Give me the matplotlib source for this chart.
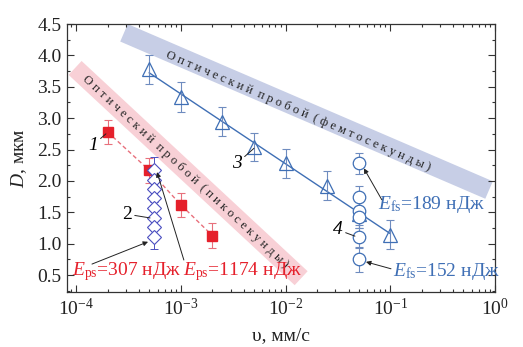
import numpy as np
import matplotlib
matplotlib.use("Agg")
import matplotlib.pyplot as plt
from matplotlib.ticker import FixedLocator, NullFormatter, LogLocator

plt.rcParams['font.family'] = ['Liberation Serif', 'DejaVu Serif']
plt.rcParams['mathtext.fontset'] = 'custom'
plt.rcParams['mathtext.rm'] = 'Liberation Serif'
plt.rcParams['mathtext.it'] = 'Liberation Serif:italic'

# --- data -------------------------------------------------------------
# 1: picosecond pulses, squares
v_ps = [2e-4, 5e-4, 1e-3, 2e-3]
d_ps = [2.78, 2.17, 1.62, 1.13]
e_ps = [0.19, 0.2, 0.19, 0.2]

# 2: picosecond pulses, diamonds at a fixed speed
v_dia = [5.5e-4] * 8
d_dia = [2.18, 2.02, 1.87, 1.72, 1.57, 1.41, 1.26, 1.11]
e_dia = [0.2] * 8

# 3: femtosecond pulses, triangles
v_fs = [5e-4, 1e-3, 2.5e-3, 5e-3, 1e-2, 2.5e-2, 5e-2, 1e-1]
d_fs = [3.78, 3.34, 2.94, 2.54, 2.28, 1.92, 1.48, 1.14]
e_fs = [0.23, 0.24, 0.23, 0.23, 0.23, 0.23, 0.23, 0.23]

# 4: femtosecond pulses, circles at a fixed speed
v_circ = [5e-2] * 6
d_circ = [2.28, 1.75, 1.52, 1.42, 1.11, 0.75]
e_circ = [0.17, 0.17, 0.17, 0.17, 0.18, 0.2]

# breakdown zones (start, end) in (speed, D)
band_pico = ([9.8e-5, 1.41e-2], [3.80, 0.45])
band_femto = ([2.87e-4, 0.877], [4.36, 1.855])

xticks = [1e-4, 1e-3, 1e-2, 1e-1, 1e0]
xticklabels = [r'$10^{-4}$', r'$10^{-3}$', r'$10^{-2}$', r'$10^{-1}$', r'$10^{0}$']
yticks = [0.5, 1.0, 1.5, 2.0, 2.5, 3.0, 3.5, 4.0, 4.5]
yticklabels = ['0.5', '1.0', '1.5', '2.0', '2.5', '3.0', '3.5', '4.0', '4.5']

RED = '#e5202b'
RED_LIGHT = '#e8707c'
BLUE = '#3f6fb5'
BLUE_ERR = '#6f8cbf'
VIOLET = '#4b4fc0'
PINK_BAND = '#f8d0d6'
BLUE_BAND = '#c7cee6'

fig = plt.figure(figsize=(5.23, 3.47), dpi=100)
ax = fig.add_axes([0.1281, 0.1585, 0.8184, 0.7723])
ax.set_xscale('log')
ax.set_xlim(8.2e-5, 1.0)
ax.set_ylim(0.23, 4.5)

# breakdown zones
ax.plot(*band_pico, color=PINK_BAND, lw=13.7, solid_capstyle='butt', zorder=1)
ax.plot(*band_femto, color=BLUE_BAND, lw=13.7, solid_capstyle='butt', zorder=1)

def band_angle(band):
    p = ax.transData.transform(np.column_stack(band))
    return np.degrees(np.arctan2(p[1, 1] - p[0, 1], p[1, 0] - p[0, 0]))

def spaced(s):
    return ' '.join(s).replace('   ', '  ')

ax.text(1.1e-3, 2.14, spaced('Оптический пробой (пикосекунды)'), fontsize=9,
        rotation=band_angle(band_pico), rotation_mode='anchor',
        ha='center', va='center', color='#222222', zorder=2)
ax.text(1.31e-2, 3.11, spaced('Оптический пробой (фемтосекунды)'), fontsize=9,
        rotation=band_angle(band_femto), rotation_mode='anchor',
        ha='center', va='center', color='#222222', zorder=2)

# series 1
ax.plot(v_ps, d_ps, color=RED_LIGHT, lw=1, ls=(0, (3, 2)), zorder=3)
ax.errorbar(v_ps, d_ps, yerr=e_ps, fmt='none', ecolor=RED_LIGHT, elinewidth=0.8,
            capsize=3, capthick=0.8, zorder=3)
ax.plot(v_ps, d_ps, 's', color=RED, ms=7, zorder=4)

# series 2
ax.errorbar(v_dia, d_dia, yerr=e_dia, fmt='none', ecolor=VIOLET, elinewidth=0.7,
            capsize=3, capthick=0.7, zorder=3)
ax.plot(v_dia, d_dia, 'D', mfc='white', mec=VIOLET, mew=0.8, ms=7, ls='none', zorder=4)

# series 3 with logarithmic fit
coef = np.polyfit(np.log10(v_fs), d_fs, 1)
vfit = np.array([v_fs[0], v_fs[-1]])
ax.plot(vfit, np.polyval(coef, np.log10(vfit)), color=BLUE, lw=1, zorder=3)
ax.errorbar(v_fs, d_fs, yerr=e_fs, fmt='none', ecolor=BLUE_ERR, elinewidth=0.8,
            capsize=3, capthick=0.8, zorder=3)
ax.plot(v_fs, d_fs, '^', mfc='none', mec=BLUE, mew=0.9, ms=10, ls='none', zorder=4)

# series 4
ax.errorbar(v_circ, d_circ, yerr=e_circ, fmt='none', ecolor=BLUE_ERR, elinewidth=0.8,
            capsize=3, capthick=0.8, zorder=3)
ax.plot(v_circ, d_circ, 'o', mfc='white', mec=BLUE, mew=0.9, ms=9, ls='none', zorder=4)

# series numbers
lead = dict(arrowstyle='-', color='#222222', lw=0.7, shrinkA=0, shrinkB=0)
ax.annotate('1', xy=(1.93e-4, 2.75), xytext=(1.45e-4, 2.57), fontsize=14,
            style='italic', ha='center', va='center', arrowprops=lead, zorder=5)
ax.annotate('2', xy=(5.09e-4, 1.41), xytext=(3.07e-4, 1.47), fontsize=14,
            ha='center', va='center', arrowprops=lead, zorder=5)
ax.annotate('3', xy=(5e-3, 2.52), xytext=(3.44e-3, 2.28), fontsize=14,
            style='italic', ha='center', va='center', arrowprops=lead, zorder=5)
ax.annotate('4', xy=(4.6e-2, 1.12), xytext=(3.17e-2, 1.22), fontsize=14,
            style='italic', ha='center', va='center', arrowprops=lead, zorder=5)

# pulse energies
arr = dict(arrowstyle='-|>', color='#222222', lw=0.7, mutation_scale=7,
           shrinkA=0, shrinkB=0)
ax.text(9.16e-5, 0.56, r'$E_{\rm ps}$=307 нДж', fontsize=14, color=RED,
        ha='left', va='center', zorder=5)
ax.annotate('', xy=(4.87e-4, 1.03), xytext=(1.42e-4, 0.675), arrowprops=arr, zorder=5)
ax.text(1.05e-3, 0.56, r'$E_{\rm ps}$=1174 нДж', fontsize=14, color=RED,
        ha='left', va='center', zorder=5)
ax.annotate('', xy=(5.93e-4, 2.14), xytext=(1.07e-3, 0.74), arrowprops=arr, zorder=5)
ax.text(7.64e-2, 1.62, r'$E_{\rm fs}$=189 нДж', fontsize=14, color=BLUE,
        ha='left', va='center', zorder=5)
ax.annotate('', xy=(5.6e-2, 2.2), xytext=(8.3e-2, 1.70), arrowprops=arr, zorder=5)
ax.text(0.106, 0.55, r'$E_{\rm fs}$=152 нДж', fontsize=14, color=BLUE,
        ha='left', va='center', zorder=5)
ax.annotate('', xy=(5.86e-2, 0.71), xytext=(0.1016, 0.6), arrowprops=arr, zorder=5)

# axes
ax.set_xticks(xticks)
ax.set_xticklabels(xticklabels)
ax.xaxis.set_minor_locator(LogLocator(base=10, subs=np.arange(2, 10), numticks=20))
ax.xaxis.set_minor_formatter(NullFormatter())
ax.set_yticks(yticks)
ax.set_yticklabels(yticklabels)
ax.yaxis.set_minor_locator(FixedLocator(np.arange(0.25, 4.5, 0.5)))
ax.tick_params(which='both', direction='in', top=True, right=True,
               color='#333333', width=0.8)
ax.tick_params(which='major', length=5, labelsize=14, labelcolor='#222222', pad=4)
ax.tick_params(which='minor', length=2.5)
for s in ax.spines.values():
    s.set_color('#333333')
    s.set_linewidth(0.9)

ax.set_xlabel('υ, мм/с', fontsize=14, color='#222222', labelpad=6)
ax.set_ylabel(r'$D$, мкм', fontsize=14, color='#222222', labelpad=6)

fig.savefig('out.png', dpi=100)
